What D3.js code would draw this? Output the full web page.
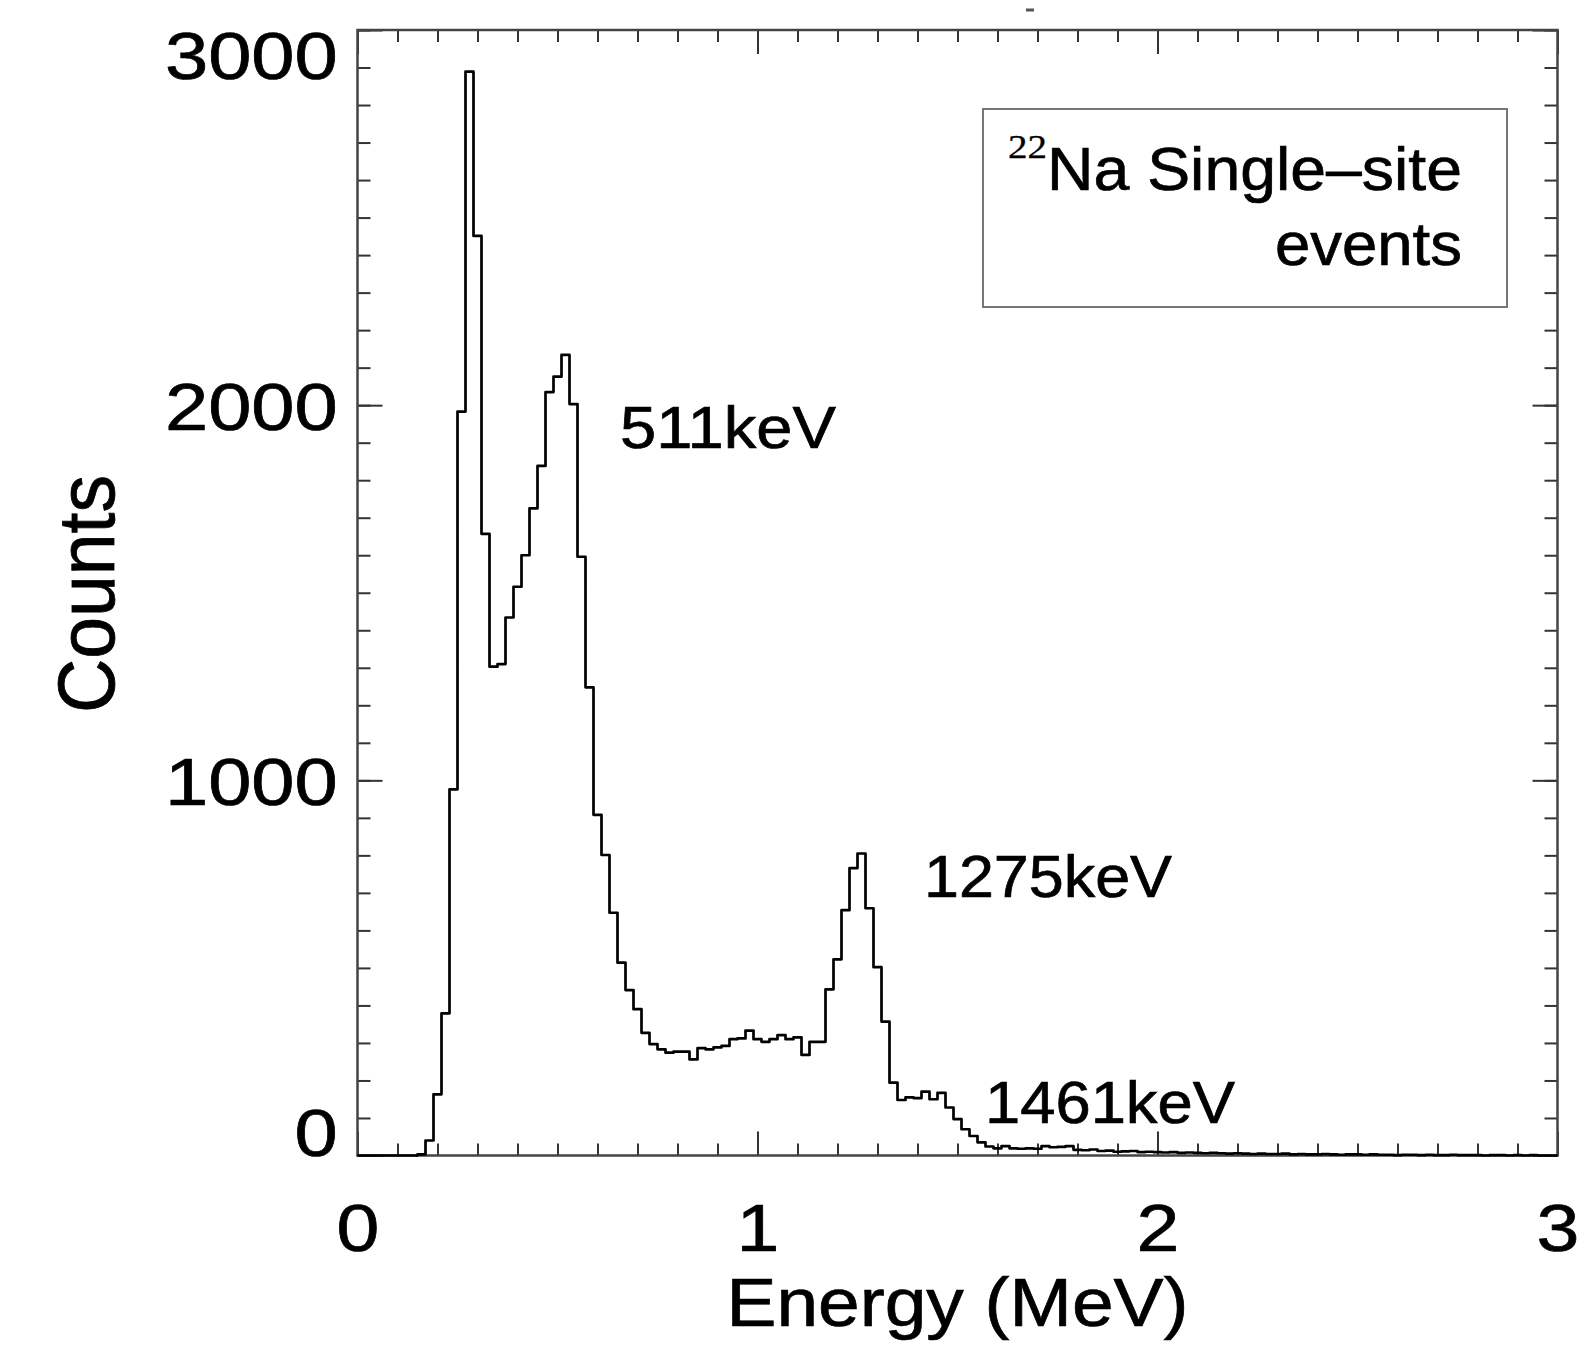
<!DOCTYPE html>
<html>
<head>
<meta charset="utf-8">
<script src="https://cdn.jsdelivr.net/npm/d3@7"></script>
<style>
  body { margin: 0; background: #fff; }
  svg { display: block; }
  text { font-family: "Liberation Sans", Arial, Helvetica, sans-serif; fill: #000; stroke: #000; stroke-width: 0.7px; }
</style>
</head>
<body>
<div id="chart"></div>
<script>
//-----------------------------DATA-----------------------------//
// histogram bin width (MeV), counts per bin starting at 0 MeV
const binWidth = 0.02;
const counts = [
  0, 0, 0, 0, 0, 0, 0, 0, 3, 40,
  163, 379, 976, 1983, 2889, 2451, 1657, 1303, 1310, 1434,
  1516, 1600, 1725, 1838, 2035, 2076, 2134, 2003, 1596, 1248,
  908, 801, 647, 514, 441, 390, 327, 297, 283, 274,
  277, 277, 256, 286, 283, 288, 292, 310, 312, 333,
  310, 303, 310, 321, 310, 315, 268, 303, 303, 443,
  523, 654, 766, 805, 659, 502, 357, 194, 148, 155,
  153, 170, 150, 167, 128, 97, 70, 52, 35, 24,
  19, 25, 19, 18, 19, 18, 25, 22, 23, 25,
  15, 14, 16, 12, 13, 10, 11, 12, 9, 10,
  9, 8, 9, 7, 8, 7, 6, 7, 6, 5,
  6, 5, 4, 5, 4, 4, 5, 3, 4, 3,
  3, 4, 3, 2, 3, 3, 2, 3, 2, 2,
  1, 2, 2, 1, 2, 1, 1, 2, 1, 1,
  1, 0, 1, 1, 0, 1, 0, 1, 0, 0,
  0
];
const xTickValues = [0, 1, 2, 3];
const yTickValues = [0, 1000, 2000, 3000];
const peakLabels = ["511keV", "1275keV", "1461keV"];
const legendLines = ["Na Single\u2013site", "events"];

//-----------------------------SVG------------------------------//
const width = 1593;
const height = 1349;
const x0 = 357.5, x1 = 1557.5;
const yTop = 30, yBottom = 1155.5;

const svg = d3.select("#chart").append("svg")
  .attr("width", width)
  .attr("height", height);

//----------------------------SCALES----------------------------//
const xScale = d3.scaleLinear().domain([0, 3]).range([x0, x1]);
const yScale = d3.scaleLinear().domain([0, 3000]).range([yBottom, yTop]);

const minorX = d3.range(0, 31).map(i => i / 10);
const minorY = d3.range(0, 3001, 100);

//-----------------------------TICKS----------------------------//
// all ticks point inward, on all four sides
function tickGroup(axis, tx, ty) {
  const g = svg.append("g")
    .attr("transform", "translate(" + tx + "," + ty + ")")
    .call(axis);
  g.select(".domain").remove();
  g.selectAll("line").attr("stroke", "#333").attr("stroke-width", 2);
  return g;
}

tickGroup(d3.axisRight(yScale).tickValues(minorY).tickSize(13).tickFormat(""), x0, 0);
tickGroup(d3.axisRight(yScale).tickValues(yTickValues).tickSize(25).tickFormat(""), x0, 0);
tickGroup(d3.axisLeft(yScale).tickValues(minorY).tickSize(13).tickFormat(""), x1, 0);
tickGroup(d3.axisLeft(yScale).tickValues(yTickValues).tickSize(25).tickFormat(""), x1, 0);
tickGroup(d3.axisTop(xScale).tickValues(minorX).tickSize(12).tickFormat(""), 0, yBottom);
tickGroup(d3.axisTop(xScale).tickValues(xTickValues).tickSize(24).tickFormat(""), 0, yBottom);
tickGroup(d3.axisBottom(xScale).tickValues(minorX).tickSize(12).tickFormat(""), 0, yTop);
tickGroup(d3.axisBottom(xScale).tickValues(xTickValues).tickSize(24).tickFormat(""), 0, yTop);

//-----------------------------FRAME----------------------------//
svg.append("rect")
  .attr("x", x0)
  .attr("y", yTop)
  .attr("width", x1 - x0)
  .attr("height", yBottom - yTop)
  .attr("fill", "none")
  .attr("stroke", "#444")
  .attr("stroke-width", 2.5);

// small mark above the frame
svg.append("line")
  .attr("x1", 1026).attr("x2", 1034)
  .attr("y1", 10).attr("y2", 10)
  .attr("stroke", "#555")
  .attr("stroke-width", 3);

//-------------------------TICK LABELS--------------------------//
const yLabels = svg.append("g")
  .attr("transform", "translate(" + x0 + ",0)")
  .call(d3.axisLeft(yScale).tickValues(yTickValues).tickSize(0).tickPadding(17).tickFormat(d3.format("d")));
yLabels.select(".domain").remove();
yLabels.selectAll("text")
  .style("font-size", "67px")
  .attr("dy", d => d === 3000 ? "0.72em" : (d === 0 ? "0em" : "0.36em"))
  .attr("transform", "scale(1.16,1)");

const xLabels = svg.append("g")
  .attr("transform", "translate(0," + yBottom + ")")
  .call(d3.axisBottom(xScale).tickValues(xTickValues).tickSize(0).tickPadding(48).tickFormat(d3.format("d")));
xLabels.select(".domain").remove();
xLabels.selectAll("text")
  .style("font-size", "67px")
  .attr("transform", "scale(1.15,1)");

//-------------------------AXIS TITLES--------------------------//
svg.append("text")
  .attr("x", (x0 + x1) / 2)
  .attr("y", 1326)
  .attr("text-anchor", "middle")
  .attr("textLength", 462)
  .attr("lengthAdjust", "spacingAndGlyphs")
  .style("font-size", "68px")
  .text("Energy (MeV)");

svg.append("g")
  .attr("transform", "translate(114,594) scale(1.15,1) rotate(-90)")
  .append("text")
  .attr("text-anchor", "middle")
  .attr("textLength", 238)
  .attr("lengthAdjust", "spacingAndGlyphs")
  .style("font-size", "70px")
  .text("Counts");

//---------------------------HISTOGRAM--------------------------//
const bins = counts.map((c, i) => ({ energy: i * binWidth, count: c }));

const line = d3.line()
  .x(d => xScale(d.energy))
  .y(d => yScale(d.count))
  .curve(d3.curveStep);

svg.append("path")
  .datum(bins)
  .attr("d", line)
  .attr("fill", "none")
  .attr("stroke", "#000")
  .attr("stroke-width", 2.7)
  .attr("stroke-linejoin", "round");

//--------------------------PEAK LABELS-------------------------//
const peakPos = [
  { x: 620, y: 448, len: 216 },
  { x: 924, y: 897, len: 248 },
  { x: 985, y: 1123, len: 250 }
];
svg.selectAll(".peak")
  .data(peakLabels)
  .enter()
  .append("text")
  .attr("class", "peak")
  .attr("x", (d, i) => peakPos[i].x)
  .attr("y", (d, i) => peakPos[i].y)
  .attr("textLength", (d, i) => peakPos[i].len)
  .attr("lengthAdjust", "spacingAndGlyphs")
  .style("font-size", "60px")
  .text(d => d);

//-----------------------------LEGEND---------------------------//
svg.append("rect")
  .attr("x", 983)
  .attr("y", 109)
  .attr("width", 524)
  .attr("height", 198)
  .attr("fill", "#fff")
  .attr("stroke", "#777")
  .attr("stroke-width", 2);

svg.append("text")
  .attr("x", 1008)
  .attr("y", 158)
  .attr("textLength", 39)
  .attr("lengthAdjust", "spacingAndGlyphs")
  .style("font-family", "'Liberation Serif', 'Times New Roman', serif")
  .style("font-size", "34px")
  .style("stroke-width", "0.3px")
  .text("22");

svg.append("text")
  .attr("x", 1047)
  .attr("y", 190)
  .attr("textLength", 415)
  .attr("lengthAdjust", "spacingAndGlyphs")
  .style("font-size", "61px")
  .text(legendLines[0]);

svg.append("text")
  .attr("x", 1462)
  .attr("y", 265)
  .attr("text-anchor", "end")
  .attr("textLength", 187)
  .attr("lengthAdjust", "spacingAndGlyphs")
  .style("font-size", "61px")
  .text(legendLines[1]);
</script>
</body>
</html>
